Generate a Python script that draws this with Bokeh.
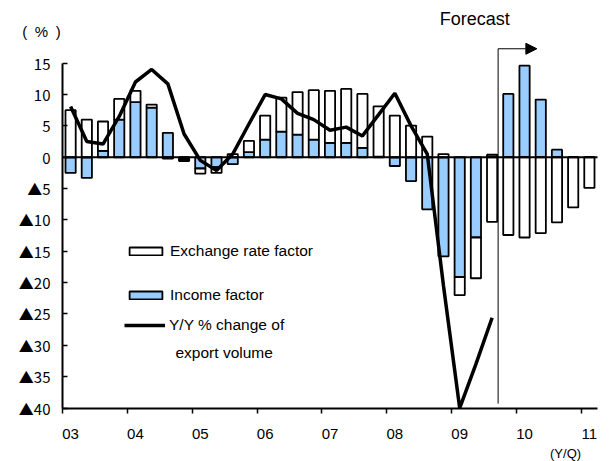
from bokeh.plotting import figure
from bokeh.models import (ColumnDataSource, FixedTicker, Label, Legend,
                          LegendItem, Arrow, NormalHead, LinearAxis, Range1d)
from bokeh.embed import file_html
from bokeh.resources import INLINE

# ---------------- data ----------------
year_labels = ["03", "04", "05", "06", "07", "08", "09", "10", "11"]

quarters = ["03Q1", "03Q2", "03Q3", "03Q4", "04Q1", "04Q2", "04Q3", "04Q4",
            "05Q1", "05Q2", "05Q3", "05Q4", "06Q1", "06Q2", "06Q3", "06Q4",
            "07Q1", "07Q2", "07Q3", "07Q4", "08Q1", "08Q2", "08Q3", "08Q4",
            "09Q1", "09Q2", "09Q3", "09Q4", "10Q1", "10Q2", "10Q3", "10Q4",
            "11Q1"]

income_factor = [-2.5, -3.3, 1.0, 6.0, 8.8, 7.9, 3.9, -0.3,
                 -1.8, -1.6, -1.1, 0.8, 2.8, 4.1, 3.6, 2.8,
                 2.3, 2.3, 1.5, 0.1, -1.4, -3.8, -8.3, -15.8,
                 -19.1, -12.8, 0.4, 10.1, 14.6, 9.2, 1.2, 0.0,
                 0.0]

exchange_factor = [7.5, 6.0, 4.7, 3.3, 1.8, 0.5, -0.2, -0.3,
                   -0.8, -0.9, 0.5, 1.8, 3.85, 5.4, 6.8, 7.9,
                   8.3, 8.6, 8.6, 8.0, 6.65, 5.05, 3.3, 0.5,
                   -2.9, -6.5, -10.3, -12.4, -12.8, -12.1, -10.4, -8.0,
                   -4.9]

export_volume = [8.1, 2.5, 2.1, 6.5, 12.0, 14.0, 11.7, 3.7,
                 -0.5, -2.1, 0.5, 5.3, 10.0, 9.3, 7.0, 6.0,
                 4.3, 4.8, 3.4, 6.8, 10.2, 5.0, 0.5, -20.5,
                 -40.0, -33.0, -25.6]

y_ticks = [15, 10, 5, 0, -5, -10, -15, -20, -25, -30, -35, -40]
y_tick_labels = ["15", "10", "5", "0", "▲5", "▲10", "▲15", "▲20",
                 "▲25", "▲30", "▲35", "▲40"]

# ---------------- derived positions ----------------
n = len(quarters)
xs = [i + 0.5 for i in range(n)]

ex_bottom = []
ex_top = []
for inc, ex in zip(income_factor, exchange_factor):
    base = inc if (inc > 0 and ex > 0) or (inc < 0 and ex < 0) else 0.0
    ex_bottom.append(base)
    ex_top.append(base + ex)

src = ColumnDataSource(dict(x=xs, inc_top=income_factor, inc_bottom=[0.0] * n,
                            ex_top=ex_top, ex_bottom=ex_bottom))
line_src = ColumnDataSource(dict(x=xs[:len(export_volume)], y=export_volume))

FONT = "Liberation Sans"
TICK_FONT = "Noto Sans CJK JP"
BLUE = "#99CCFF"
Y_MIN, Y_MAX = -40, 15

# frame covers the whole canvas; axes are pinned inside it
p = figure(width=610, height=461,
           x_range=Range1d(-3.824, 33.802), y_range=Range1d(-48.53, 25.0),
           output_backend="svg", toolbar_location=None,
           x_axis_type=None, y_axis_type=None, min_border=0,
           outline_line_color=None, background_fill_color="white",
           border_fill_color="white")

# axes
year_pos = [4 * k + 0.5 for k in range(len(year_labels))]
xaxis = LinearAxis(
    fixed_location=Y_MIN, bounds=(0, n),
    ticker=FixedTicker(ticks=year_pos, minor_ticks=[4 * k for k in range(len(year_labels))]),
    major_label_overrides={pos: lab for pos, lab in zip(year_pos, year_labels)},
    major_tick_in=0, major_tick_out=0,
    minor_tick_in=0, minor_tick_out=5, minor_tick_line_width=1.5,
    axis_line_width=2, major_label_standoff=16,
    major_label_text_font=FONT, major_label_text_font_size="15px",
    major_label_text_color="black")
p.add_layout(xaxis, "below")

yaxis = LinearAxis(
    fixed_location=0, bounds=(Y_MIN, Y_MAX),
    ticker=FixedTicker(ticks=y_ticks),
    major_label_overrides={t: lab for t, lab in zip(y_ticks, y_tick_labels)},
    major_tick_in=5, major_tick_out=0, major_tick_line_width=1.5,
    minor_tick_in=0, minor_tick_out=0,
    axis_line_width=2, major_label_standoff=12,
    major_label_text_font=TICK_FONT, major_label_text_font_size="15px",
    major_label_text_color="black")
p.add_layout(yaxis, "left")

# bars
r_inc = p.vbar(x="x", top="inc_top", bottom="inc_bottom", width=0.63, source=src,
               fill_color=BLUE, line_color="black", line_width=1.8)
r_ex = p.vbar(x="x", top="ex_top", bottom="ex_bottom", width=0.63, source=src,
              fill_color="white", line_color="black", line_width=1.8)

# zero line across the plotting area
p.segment(x0=[0], y0=[0], x1=[n], y1=[0], line_color="black", line_width=2.2)

# export volume line
r_line = p.line(x="x", y="y", source=line_src, line_color="black", line_width=3.5)

# forecast marker
forecast_x = 26.87
arrow_y = 17.3
p.segment(x0=[forecast_x], y0=[-39.3], x1=[forecast_x], y1=[arrow_y],
          line_color="black", line_width=1)
p.add_layout(Arrow(end=NormalHead(size=11, fill_color="black", line_color="black", line_width=1),
                   x_start=forecast_x, y_start=arrow_y, x_end=29.26, y_end=arrow_y,
                   line_color="black", line_width=1))
p.add_layout(Label(x=25.43, y=22.1, text="Forecast", text_align="center",
                   text_baseline="middle", text_font=FONT, text_font_size="18px",
                   text_color="black"))

# unit labels
p.add_layout(Label(x=-1.295, y=20.06, text="(\u2002%\u2002)", text_align="center",
                   text_baseline="middle", text_font=FONT, text_font_size="15px",
                   text_color="black"))
p.add_layout(Label(x=31.03, y=-47.26, text="(Y/Q)", text_align="center",
                   text_baseline="middle", text_font=FONT, text_font_size="13px",
                   text_color="black"))

# legends
leg_common = dict(glyph_width=41, glyph_height=10, label_height=17, label_standoff=4,
                  padding=0, margin=0, border_line_color=None, background_fill_alpha=0,
                  label_text_font=FONT, label_text_font_size="15.5px",
                  label_text_color="black")
leg1 = Legend(items=[LegendItem(label="Exchange rate factor", renderers=[r_ex]),
                     LegendItem(label="Income factor", renderers=[r_inc])],
              location=(125, 157.5), spacing=26, **leg_common)
p.add_layout(leg1, "center")
leg2 = Legend(items=[LegendItem(label="Y/Y % change of", renderers=[r_line])],
              location=(124, 127.5), spacing=0, **leg_common)
p.add_layout(leg2, "center")
p.add_layout(Label(x=6.97, y=-31.15, text="export volume", text_align="left",
                   text_baseline="middle", text_font=FONT, text_font_size="15.5px",
                   text_color="black"))

open("out.html", "w").write(file_html(p, INLINE))
